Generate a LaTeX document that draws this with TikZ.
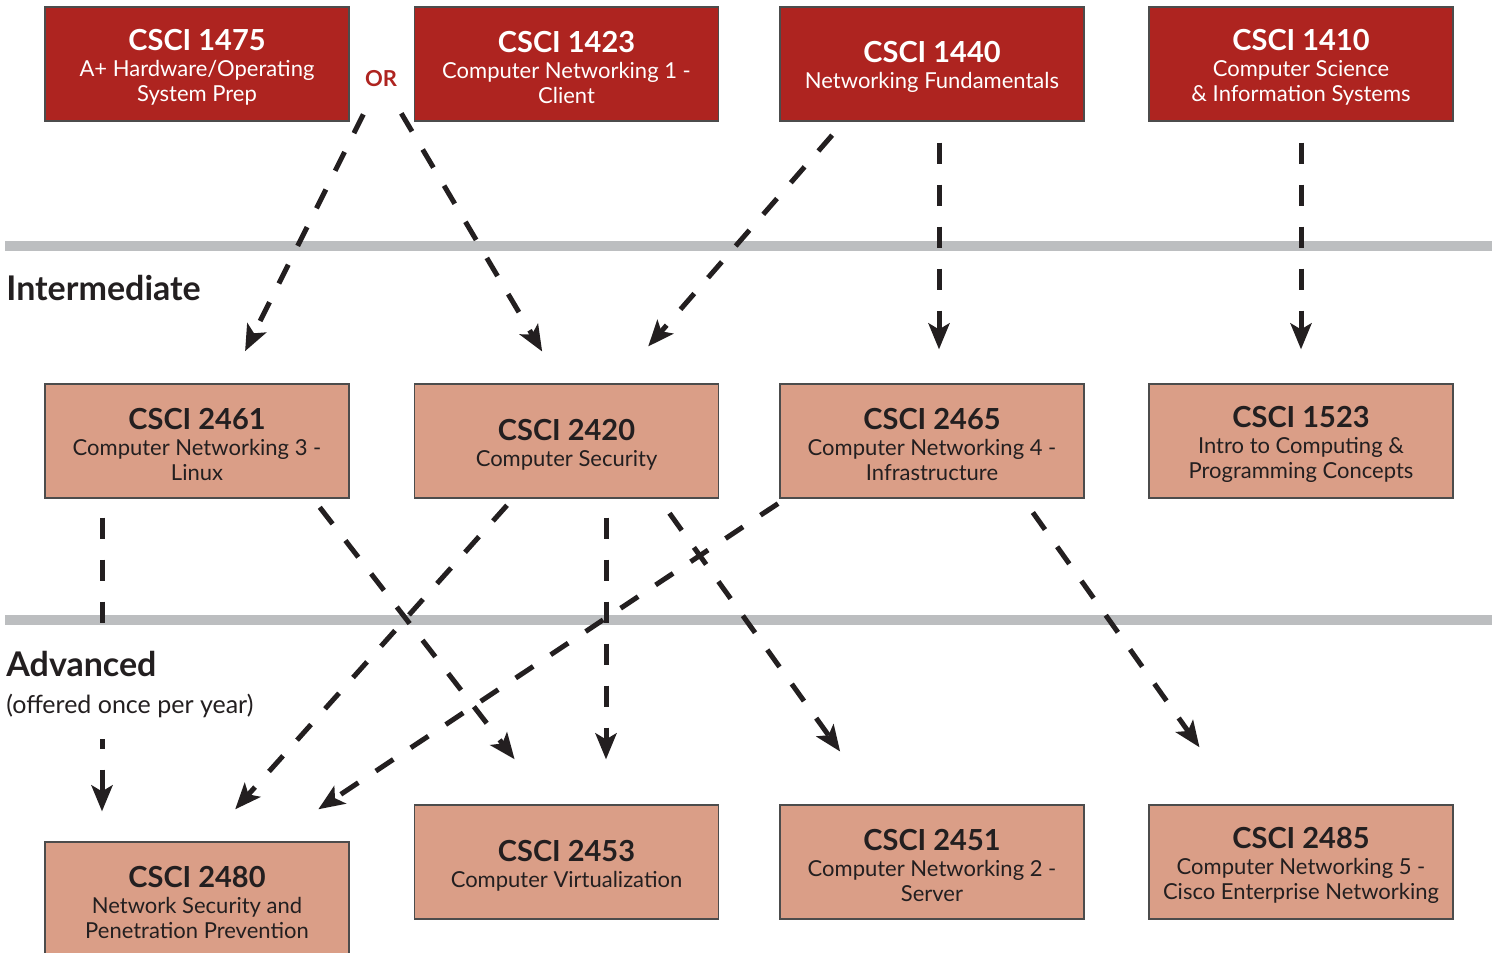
\documentclass[tikz,border=0pt]{standalone}
\usepackage{fontspec}
\setmainfont{Lato}
\usetikzlibrary{calc}
\usetikzlibrary{arrows.meta}

\definecolor{csred}{HTML}{AE2420}
\definecolor{cssalmon}{HTML}{DA9E87}
\definecolor{csbar}{HTML}{BCBEC0}
\definecolor{csink}{HTML}{231F20}

\newcommand{\course}[2]{{\fontsize{14.5}{13}\selectfont\bfseries\rule{0pt}{14pt}#1}\\[0.5pt]#2}

\tikzset{
  box/.style = {draw = black!70, line width = 0.6pt, minimum width = 152pt,
    minimum height = 57pt, align = center, inner sep = 0pt,
    font = \fontsize{11}{12.5}\selectfont},
  upper/.style = {box, fill = csred, text = white},
  lower/.style = {box, fill = cssalmon, text = csink},
  arr/.style = {draw = csink, line width = 2.5pt,
    dash pattern = on 10.5pt off 10.5pt,
    -{Stealth[length = 13pt, width = 10.5pt, inset = 3pt]}},
  level/.style = {text = csink, font = \fontsize{17}{20}\selectfont\bfseries}
}

\begin{document}
\begin{tikzpicture}[x = 0.5pt, y = -0.5pt]
  \useasboundingbox (0, 0) rectangle (1492, 952);

  % level bars
  \fill[csbar] (5, 241) rectangle (1492, 251);
  \fill[csbar] (5, 615) rectangle (1492, 625);

  % entry courses
  \node[upper] (c1475) at (197, 64) {\course{CSCI 1475}{A+ Hardware/Operating\\System Prep}};
  \node[upper] (c1423) at (566.5, 64) {\course{CSCI 1423}{Computer Networking 1 -\\Client}};
  \node[upper] (c1440) at (932, 64) {\course{CSCI 1440}{Networking Fundamentals}};
  \node[upper] (c1410) at (1301, 64) {\course{CSCI 1410}{Computer Science\\\& Information Systems}};
  \node[text = csred, font = \fontsize{11}{13}\selectfont\bfseries, inner sep = 0pt] (or) at (381, 79) {OR};

  % intermediate
  \node[level, anchor = base west, inner sep = 0pt] (inter) at (6, 300) {Intermediate};
  \node[lower] (c2461) at (197, 441) {\course{CSCI 2461}{Computer Networking 3 -\\Linux}};
  \node[lower] (c2420) at (566.5, 441) {\course{CSCI 2420}{Computer Security}};
  \node[lower] (c2465) at (932, 441) {\course{CSCI 2465}{Computer Networking 4 -\\Infrastructure}};
  \node[lower] (c1523) at (1301, 441) {\course{CSCI 1523}{Intro to Computing \&\\Programming Concepts}};

  % advanced
  \node[lower] (c2480) at (197, 899) {\course{CSCI 2480}{Network Security and\\Penetration Prevention}};
  \node[lower] (c2453) at (566.5, 862) {\course{CSCI 2453}{Computer Virtualization}};
  \node[lower] (c2451) at (932, 862) {\course{CSCI 2451}{Computer Networking 2 -\\Server}};
  \node[lower] (c2485) at (1301, 862) {\course{CSCI 2485}{Computer Networking 5 -\\Cisco Enterprise Networking}};

  % prerequisites
  \draw[arr, shorten <= 15pt, shorten >= 18pt] (or) -- ($(c2461.north) + (32, 0)$);
  \draw[arr, shorten <= 15pt, shorten >= 18.5pt] (or) -- ($(c2420.north) + (-5.5, 0)$);
  \draw[arr, shorten <= 9pt, shorten >= 24.5pt] ($(c1440.south) + (-88, 0)$) -- ($(c2420.north) + (49.5, 0)$);
  \draw[arr, shorten <= 10.5pt, shorten >= 17pt] ($(c1440.south) + (7, 0)$) -- ($(c2465.north) + (7, 0)$);
  \draw[arr, shorten <= 10.5pt, shorten >= 17pt] (c1410) -- (c1523);
  \draw[arr, shorten <= 9.5pt, shorten >= 15pt] ($(c2461.south) + (-95, 0)$) -- ($(c2480.north) + (-95, 0)$);
  \draw[arr, shorten <= 5.5pt, shorten >= 28.5pt] ($(c2461.south) + (116, 0)$) -- ($(c2453.north) + (-17, 0)$);
  \draw[arr, shorten <= 4.5pt, shorten >= 21.5pt] ($(c2420.south) + (-53.5, 0)$) -- ($(c2480.north) + (9.5, 0)$);
  \draw[arr, shorten <= 9.5pt, shorten >= 22.5pt] ($(c2420.south) + (39.5, 0)$) -- ($(c2453.north) + (39.5, 0)$);
  \draw[arr, shorten <= 9pt, shorten >= 32.5pt] ($(c2420.south) + (92.5, 0)$) -- ($(c2451.north) + (-54, 0)$);
  \draw[arr, shorten <= 4.5pt, shorten >= 29pt] ($(c2465.south) + (-146.5, 0)$) -- ($(c2480.north) + (73, 0)$);
  \draw[arr, shorten <= 8.5pt, shorten >= 35pt] ($(c2465.south) + (91, 0)$) -- ($(c2485.north) + (-61, 0)$);

  % label sits over the dashed line
  \node[fill = white, anchor = north west, align = left, inner xsep = 0pt,
    inner ysep = 0pt, text = csink, font = \fontsize{12.5}{18.5}\selectfont]
    (adv) at (6, 632) {\rule{0pt}{22pt}{\fontsize{17}{20}\selectfont\bfseries Advanced}\\
    (offered once per year)\rule[-13pt]{0pt}{13pt}};
\end{tikzpicture}
\end{document}
